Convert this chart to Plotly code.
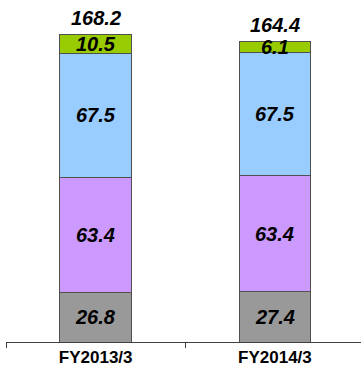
import plotly.graph_objects as go

categories = ["FY2013/3", "FY2014/3"]
series_names = ["Gray", "Purple", "Blue", "Green"]
gray = [26.8, 27.4]
purple = [63.4, 63.4]
blue = [67.5, 67.5]
green = [10.5, 6.1]
totals = [168.2, 164.4]

colors = ["#999999", "#CC99FF", "#99CCFF", "#99CC00"]
series = [gray, purple, blue, green]

FONT = "Liberation Sans, Arial, sans-serif"

fig = go.Figure()
for name, vals, col in zip(series_names, series, colors):
    fig.add_trace(go.Bar(
        x=categories, y=vals, name=name,
        marker=dict(color=col, line=dict(color="#505050", width=1)),
        width=0.4, hoverinfo="skip",
    ))

annotations = []
for i, cat in enumerate(categories):
    base = 0.0
    for vals in series:
        v = vals[i]
        annotations.append(dict(
            x=cat, y=base + v / 2, text=f"<b><i>{v}</i></b>",
            showarrow=False, xref="x", yref="y",
            font=dict(family=FONT, size=20, color="black"),
        ))
        base += v
    annotations.append(dict(
        x=cat, y=totals[i], text=f"<b><i>{totals[i]}</i></b>",
        showarrow=False, xref="x", yref="y", yanchor="bottom", yshift=3,
        font=dict(family=FONT, size=20, color="black"),
    ))

fig.update_layout(
    barmode="stack",
    width=361, height=369,
    margin=dict(l=6, r=0, t=0, b=27),
    paper_bgcolor="white", plot_bgcolor="white",
    showlegend=False,
    annotations=annotations,
    xaxis=dict(
        type="category", range=[-0.5, 1.48],
        showline=True, linecolor="#404040", linewidth=1,
        ticks="outside", tickson="boundaries", ticklen=5, tickcolor="#404040",
        tickfont=dict(family=FONT, size=17, color="black"),
        tickvals=categories, ticktext=[f"<b>{c}</b>" for c in categories],
        showgrid=False, zeroline=False,
    ),
    yaxis=dict(range=[0, 187], visible=False, showgrid=False, zeroline=False),
)

fig.write_html("out.html")
